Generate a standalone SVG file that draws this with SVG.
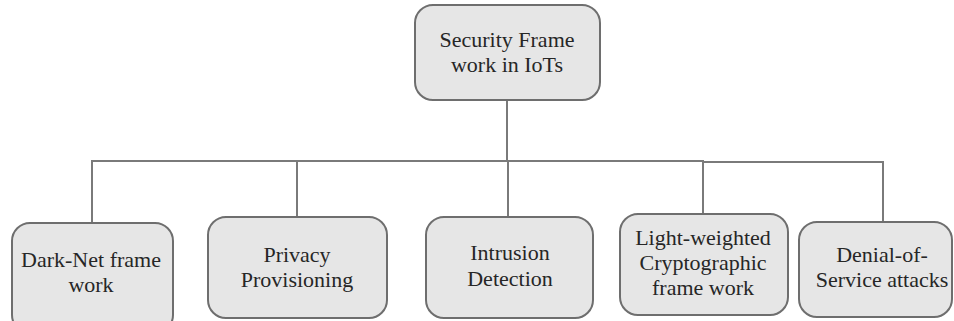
<svg xmlns="http://www.w3.org/2000/svg" width="954" height="321" viewBox="0 0 954 321">
  <style>
    .box { fill: #e6e6e6; stroke: #6e6e6e; stroke-width: 2; }
    .lbl { font-family: 'Liberation Serif', 'Times New Roman', 'DejaVu Serif', serif; font-size: 22px; fill: #262626; text-anchor: middle; }
    .wire { fill: none; stroke: #7a7a7a; stroke-width: 2; }
  </style>
  <rect width="954" height="321" fill="#ffffff"/>

  <!-- tree connectors -->
  <g id="connectors">
    <line class="wire" x1="507" y1="100" x2="507" y2="161"/>
    <polyline class="wire" points="92,223 92,161 703,161 703,162 883,162 883,222"/>
    <line class="wire" x1="297" y1="161" x2="297" y2="217"/>
    <line class="wire" x1="508" y1="161" x2="508" y2="217"/>
    <line class="wire" x1="703" y1="161" x2="703" y2="214"/>
  </g>

  <g id="root">
    <rect class="box" x="415" y="5" width="185" height="95" rx="18"/>
    <text class="lbl" x="507" y="47">Security Frame</text>
    <text class="lbl" x="507" y="72">work in IoTs</text>
  </g>

  <g id="darknet">
    <rect class="box" x="12" y="223" width="161" height="110" rx="18"/>
    <text class="lbl" x="91" y="267">Dark-Net frame</text>
    <text class="lbl" x="91" y="292">work</text>
  </g>

  <g id="privacy">
    <rect class="box" x="208" y="217" width="179" height="101" rx="18"/>
    <text class="lbl" x="297" y="262">Privacy</text>
    <text class="lbl" x="297" y="287">Provisioning</text>
  </g>

  <g id="intrusion">
    <rect class="box" x="426" y="217" width="167" height="101" rx="18"/>
    <text class="lbl" x="510" y="260">Intrusion</text>
    <text class="lbl" x="510" y="286">Detection</text>
  </g>

  <g id="lightweight">
    <rect class="box" x="620" y="214" width="168" height="101" rx="18"/>
    <text class="lbl" x="703" y="245">Light-weighted</text>
    <text class="lbl" x="703" y="270">Cryptographic</text>
    <text class="lbl" x="703" y="295">frame work</text>
  </g>

  <g id="dos">
    <rect class="box" x="799" y="222" width="153" height="95" rx="18"/>
    <text class="lbl" x="882" y="262">Denial-of-</text>
    <text class="lbl" x="882" y="287">Service attacks</text>
  </g>
</svg>
